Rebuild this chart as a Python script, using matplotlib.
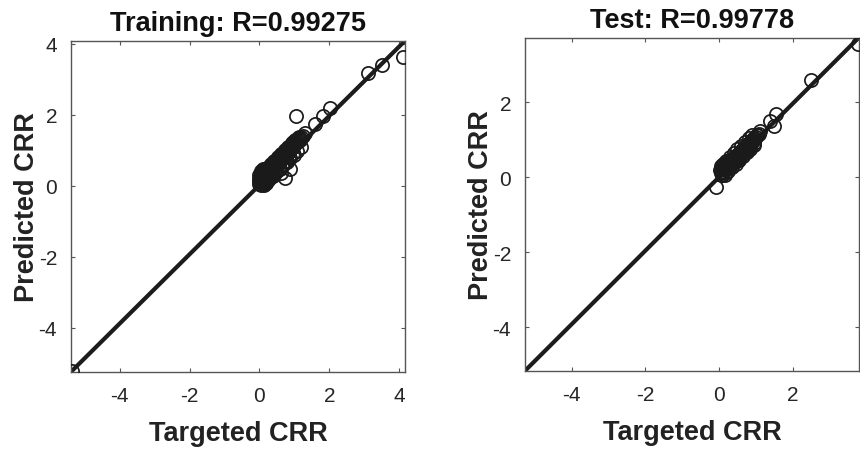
import matplotlib
matplotlib.use("Agg")
import matplotlib.pyplot as plt
import numpy as np

plt.rcParams['font.family'] = ['Liberation Sans', 'DejaVu Sans']
plt.rcParams['axes.unicode_minus'] = False

# ---- Data ----
train_titles = "Training: R=0.99275"
test_titles = "Test: R=0.99778"

train_target = [-5.38, 4.11, 3.50, 3.11, 2.02, 1.82, 1.59, 1.30, 1.06, 0.87, 0.73, 0.62,
                0.00, 0.00, 0.00, 0.02, 0.02, 0.04, 0.05, 0.05, 0.06, 0.08, 0.08, 0.10,
                0.10, 0.12, 0.12, 0.14, 0.15, 0.16, 0.18, 0.18, 0.20, 0.20, 0.22, 0.24,
                0.25, 0.26, 0.28, 0.30, 0.30, 0.32, 0.34, 0.35, 0.36, 0.38, 0.40, 0.40,
                0.42, 0.44, 0.45, 0.47, 0.48, 0.50, 0.50, 0.52, 0.54, 0.55, 0.57, 0.58,
                0.60, 0.62, 0.64, 0.65, 0.67, 0.68, 0.70, 0.72, 0.74, 0.75, 0.77, 0.79,
                0.80, 0.82, 0.84, 0.86, 0.88, 0.90, 0.92, 0.94, 0.96, 0.98, 1.00, 1.03,
                1.05, 1.08, 1.10, 1.13, 1.16, 1.20, 1.24,
                0.01, 0.03, 0.07, 0.09, 0.11, 0.13, 0.17, 0.19, 0.21, 0.23, 0.27, 0.29,
                0.31, 0.33, 0.37, 0.39, 0.41, 0.43, 0.46, 0.49, 0.51, 0.53, 0.56, 0.59,
                0.61, 0.63, 0.66, 0.69, 0.71, 0.73, 0.76, 0.78, 0.81, 0.83, 0.85, 0.87,
                0.89, 0.91, 0.93, 0.95, 0.97, 0.99, 1.02, 1.06, 1.11, 1.15, 0.15, 0.25,
                0.35, 0.45, 0.55, 0.65, 0.75, 0.85, 0.95, 0.05, 0.10, 0.20,
                0.18, 0.28, 0.38, 0.48, 0.58, 0.68, 0.78, 0.88, 0.98, 1.08, 1.18,
                0.22, 0.32, 0.42, 0.52, 0.62, 0.72, 0.82, 0.92, 1.02, 1.12,
                -0.02, 0.03, 0.08, 0.14]
train_pred = [-5.21, 3.64, 3.41, 3.18, 2.19, 1.96, 1.73, 1.49, 1.98, 0.47, 0.22, 0.35,
              0.05, 0.18, 0.31, 0.10, 0.26, 0.14, 0.03, 0.33, 0.22, 0.08, 0.28, 0.15,
              0.36, 0.24, 0.05, 0.30, 0.18, 0.38, 0.12, 0.27, 0.22, 0.40, 0.32, 0.20,
              0.42, 0.30, 0.36, 0.25, 0.46, 0.40, 0.33, 0.50, 0.42, 0.55, 0.45, 0.60,
              0.52, 0.62, 0.55, 0.66, 0.58, 0.62, 0.72, 0.68, 0.75, 0.66, 0.72, 0.80,
              0.74, 0.82, 0.78, 0.88, 0.82, 0.92, 0.86, 0.95, 0.90, 1.00, 0.93, 1.02,
              0.98, 1.06, 1.00, 1.10, 1.04, 1.12, 1.08, 1.16, 1.12, 1.20, 1.16, 1.24,
              1.22, 1.28, 1.25, 1.32, 1.30, 1.36, 1.40,
              0.24, 0.34, 0.12, 0.40, 0.20, 0.42, 0.45, 0.34, 0.50, 0.44, 0.52, 0.48,
              0.56, 0.50, 0.62, 0.50, 0.66, 0.58, 0.70, 0.60, 0.74, 0.66, 0.78, 0.70,
              0.84, 0.74, 0.90, 0.80, 0.94, 0.86, 0.98, 0.90, 1.04, 0.96, 1.08, 1.00,
              1.14, 1.05, 1.18, 1.10, 1.22, 1.14, 1.26, 1.20, 1.34, 1.33, 0.10, 0.16,
              0.28, 0.36, 0.48, 0.58, 0.70, 0.80, 0.92, 0.42, 0.46, 0.08,
              0.08, 0.18, 0.28, 0.38, 0.48, 0.58, 0.68, 0.78, 0.88, 0.98, 1.08,
              0.50, 0.60, 0.70, 0.80, 0.90, 1.00, 1.10, 1.20, 1.30, 1.38,
              0.12, 0.40, 0.30, 0.02]

test_target = [3.76, 2.49, 1.55, 1.37, 1.50, 1.10, -0.08,
               0.04, 0.06, 0.08, 0.10, 0.12, 0.14, 0.16, 0.18, 0.20, 0.22, 0.25,
               0.28, 0.30, 0.33, 0.36, 0.38, 0.40, 0.43, 0.46, 0.48, 0.50, 0.53,
               0.56, 0.58, 0.60, 0.63, 0.66, 0.68, 0.70, 0.73, 0.76, 0.78, 0.80,
               0.83, 0.86, 0.88, 0.90, 0.93, 0.96, 1.00, 1.04, 1.08,
               0.05, 0.09, 0.13, 0.17, 0.21, 0.26, 0.31, 0.35, 0.41, 0.45, 0.51,
               0.55, 0.61, 0.65, 0.71, 0.75, 0.81, 0.85, 0.91, 0.95, 1.02, 0.02,
               0.15, 0.25, 0.35, 0.45, 0.55, 0.65, 0.75, 0.85, 0.95,
               0.10, 0.20, 0.30, 0.40, 0.50, 0.60, 0.70, 0.80, 0.90]
test_pred = [3.55, 2.59, 1.68, 1.50, 1.37, 1.23, -0.27,
             0.10, 0.22, 0.05, 0.28, 0.15, 0.25, 0.12, 0.32, 0.22, 0.30, 0.35,
             0.28, 0.40, 0.36, 0.45, 0.40, 0.50, 0.46, 0.55, 0.50, 0.60, 0.56,
             0.64, 0.60, 0.70, 0.66, 0.74, 0.70, 0.80, 0.76, 0.84, 0.80, 0.90,
             0.86, 0.94, 0.90, 1.00, 0.96, 1.04, 1.08, 1.12, 1.16,
             0.30, 0.14, 0.34, 0.20, 0.38, 0.30, 0.46, 0.36, 0.54, 0.44, 0.62,
             0.52, 0.72, 0.62, 0.82, 0.72, 0.92, 0.82, 1.02, 0.92, 1.12, 0.18,
             0.06, 0.16, 0.26, 0.36, 0.46, 0.56, 0.66, 0.76, 0.86,
             0.34, 0.44, 0.54, 0.64, 0.74, 0.84, 0.94, 1.04, 1.12]

train_fit = (0.975, 0.02)
test_fit = (0.98, 0.0)

train_xlim = (-5.40, 4.17)
train_ylim = (-5.25, 4.08)
test_xlim = (-5.27, 3.80)
test_ylim = (-5.17, 3.71)

train_ticks_x = [-4, -2, 0, 2, 4]
train_ticks_y = [-4, -2, 0, 2, 4]
test_ticks_x = [-4, -2, 0, 2]
test_ticks_y = [-4, -2, 0, 2]

# ---- Figure ----
fig = plt.figure(figsize=(8.6, 4.52), dpi=100)
ax1 = fig.add_axes([71/860, 1-373/452, 334/860, 331/452])
ax2 = fig.add_axes([525/860, 1-372/452, 334/860, 333/452])

line_col = '#1c1c1c'
spine_col = '#555555'

def draw(ax, tx, py, fit, xlim, ylim, xt, yt, title):
    xs = np.array(xlim)
    ax.plot(xs, fit[0]*xs + fit[1], color=line_col, lw=3.0, zorder=2, solid_capstyle='butt')
    ax.plot(tx, py, linestyle='none', marker='o', markersize=9.5,
            markerfacecolor='none', markeredgecolor='#1a1a1a', markeredgewidth=1.25, zorder=3)
    ax.set_xlim(*xlim)
    ax.set_ylim(*ylim)
    ax.set_xticks(xt)
    ax.set_yticks(yt)
    ax.tick_params(direction='in', top=True, right=True, length=3, width=0.8,
                   labelsize=15, colors=spine_col, labelcolor='#262626', pad=10)
    for s in ax.spines.values():
        s.set_color(spine_col)
        s.set_linewidth(1.0)
    ax.set_title(title, fontsize=19.5, fontweight='bold', color='#111111', pad=8)
    ax.set_xlabel('Targeted CRR', fontsize=19.5, fontweight='bold', color='#222222', labelpad=11)
    ax.set_ylabel('Predicted CRR', fontsize=19.5, fontweight='bold', color='#222222', labelpad=-1)

draw(ax1, train_target, train_pred, train_fit, train_xlim, train_ylim,
     train_ticks_x, train_ticks_y, train_titles)
draw(ax2, test_target, test_pred, test_fit, test_xlim, test_ylim,
     test_ticks_x, test_ticks_y, test_titles)

fig.savefig('out.png', dpi=100)
